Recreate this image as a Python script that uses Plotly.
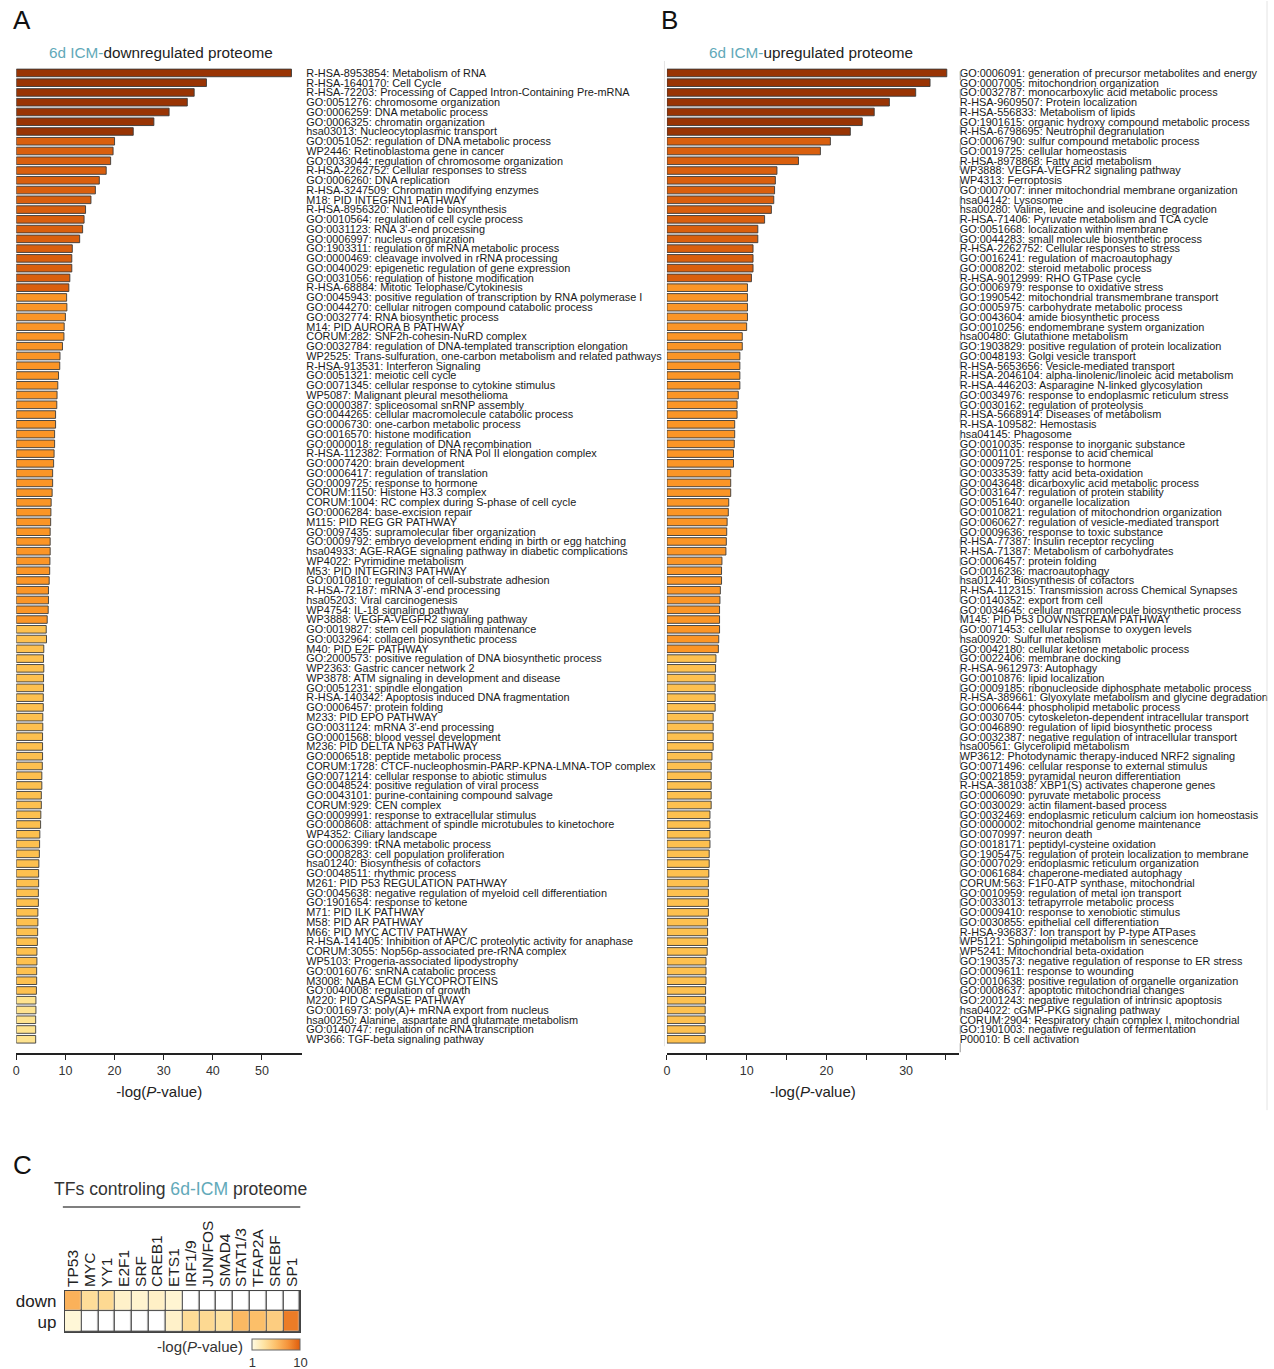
import plotly.graph_objects as go

W, H = 1274, 1369
FONT = "Liberation Sans, Arial, Helvetica, sans-serif"
TEAL = "#62a9b9"

# ---------------- enrichment terms: 6d ICM downregulated proteome ----------------
down_terms = [
    "R-HSA-8953854: Metabolism of RNA",
    "R-HSA-1640170: Cell Cycle",
    "R-HSA-72203: Processing of Capped Intron-Containing Pre-mRNA",
    "GO:0051276: chromosome organization",
    "GO:0006259: DNA metabolic process",
    "GO:0006325: chromatin organization",
    "hsa03013: Nucleocytoplasmic transport",
    "GO:0051052: regulation of DNA metabolic process",
    "WP2446: Retinoblastoma gene in cancer",
    "GO:0033044: regulation of chromosome organization",
    "R-HSA-2262752: Cellular responses to stress",
    "GO:0006260: DNA replication",
    "R-HSA-3247509: Chromatin modifying enzymes",
    "M18: PID INTEGRIN1 PATHWAY",
    "R-HSA-8956320: Nucleotide biosynthesis",
    "GO:0010564: regulation of cell cycle process",
    "GO:0031123: RNA 3'-end processing",
    "GO:0006997: nucleus organization",
    "GO:1903311: regulation of mRNA metabolic process",
    "GO:0000469: cleavage involved in rRNA processing",
    "GO:0040029: epigenetic regulation of gene expression",
    "GO:0031056: regulation of histone modification",
    "R-HSA-68884: Mitotic Telophase/Cytokinesis",
    "GO:0045943: positive regulation of transcription by RNA polymerase I",
    "GO:0044270: cellular nitrogen compound catabolic process",
    "GO:0032774: RNA biosynthetic process",
    "M14: PID AURORA B PATHWAY",
    "CORUM:282: SNF2h-cohesin-NuRD complex",
    "GO:0032784: regulation of DNA-templated transcription elongation",
    "WP2525: Trans-sulfuration, one-carbon metabolism and related pathways",
    "R-HSA-913531: Interferon Signaling",
    "GO:0051321: meiotic cell cycle",
    "GO:0071345: cellular response to cytokine stimulus",
    "WP5087: Malignant pleural mesothelioma",
    "GO:0000387: spliceosomal snRNP assembly",
    "GO:0044265: cellular macromolecule catabolic process",
    "GO:0006730: one-carbon metabolic process",
    "GO:0016570: histone modification",
    "GO:0000018: regulation of DNA recombination",
    "R-HSA-112382: Formation of RNA Pol II elongation complex",
    "GO:0007420: brain development",
    "GO:0006417: regulation of translation",
    "GO:0009725: response to hormone",
    "CORUM:1150: Histone H3.3 complex",
    "CORUM:1004: RC complex during S-phase of cell cycle",
    "GO:0006284: base-excision repair",
    "M115: PID REG GR PATHWAY",
    "GO:0097435: supramolecular fiber organization",
    "GO:0009792: embryo development ending in birth or egg hatching",
    "hsa04933: AGE-RAGE signaling pathway in diabetic complications",
    "WP4022: Pyrimidine metabolism",
    "M53: PID INTEGRIN3 PATHWAY",
    "GO:0010810: regulation of cell-substrate adhesion",
    "R-HSA-72187: mRNA 3'-end processing",
    "hsa05203: Viral carcinogenesis",
    "WP4754: IL-18 signaling pathway",
    "WP3888: VEGFA-VEGFR2 signaling pathway",
    "GO:0019827: stem cell population maintenance",
    "GO:0032964: collagen biosynthetic process",
    "M40: PID E2F PATHWAY",
    "GO:2000573: positive regulation of DNA biosynthetic process",
    "WP2363: Gastric cancer network 2",
    "WP3878: ATM signaling in development and disease",
    "GO:0051231: spindle elongation",
    "R-HSA-140342: Apoptosis induced DNA fragmentation",
    "GO:0006457: protein folding",
    "M233: PID EPO PATHWAY",
    "GO:0031124: mRNA 3'-end processing",
    "GO:0001568: blood vessel development",
    "M236: PID DELTA NP63 PATHWAY",
    "GO:0006518: peptide metabolic process",
    "CORUM:1728: CTCF-nucleophosmin-PARP-KPNA-LMNA-TOP complex",
    "GO:0071214: cellular response to abiotic stimulus",
    "GO:0048524: positive regulation of viral process",
    "GO:0043101: purine-containing compound salvage",
    "CORUM:929: CEN complex",
    "GO:0009991: response to extracellular stimulus",
    "GO:0008608: attachment of spindle microtubules to kinetochore",
    "WP4352: Ciliary landscape",
    "GO:0006399: tRNA metabolic process",
    "GO:0008283: cell population proliferation",
    "hsa01240: Biosynthesis of cofactors",
    "GO:0048511: rhythmic process",
    "M261: PID P53 REGULATION PATHWAY",
    "GO:0045638: negative regulation of myeloid cell differentiation",
    "GO:1901654: response to ketone",
    "M71: PID ILK PATHWAY",
    "M58: PID AR PATHWAY",
    "M66: PID MYC ACTIV PATHWAY",
    "R-HSA-141405: Inhibition of APC/C proteolytic activity for anaphase",
    "CORUM:3055: Nop56p-associated pre-rRNA complex",
    "WP5103: Progeria-associated lipodystrophy",
    "GO:0016076: snRNA catabolic process",
    "M3008: NABA ECM GLYCOPROTEINS",
    "GO:0040008: regulation of growth",
    "M220: PID CASPASE PATHWAY",
    "GO:0016973: poly(A)+ mRNA export from nucleus",
    "hsa00250: Alanine, aspartate and glutamate metabolism",
    "GO:0140747: regulation of ncRNA transcription",
    "WP366: TGF-beta signaling pathway",
]
down_values = [
    56.0, 38.7, 36.2, 34.8, 31.1, 28.0, 23.8, 20.0, 19.7, 19.2,
    18.3, 16.9, 16.1, 15.2, 14.1, 13.8, 13.5, 12.9, 11.4, 11.3,
    11.3, 10.9, 10.7, 10.25, 10.3, 10.0, 9.75, 9.7, 9.4, 8.9,
    8.85, 8.6, 8.45, 8.3, 8.25, 8.0, 8.0, 7.8, 7.8, 7.7,
    7.6, 7.4, 7.4, 7.3, 7.1, 7.05, 7.0, 6.9, 6.9, 6.9,
    6.85, 6.8, 6.7, 6.55, 6.55, 6.5, 6.3, 6.1, 6.15, 5.6,
    5.55, 5.6, 5.55, 5.55, 5.5, 5.5, 5.4, 5.4, 5.35, 5.35,
    5.35, 5.3, 5.2, 5.2, 5.1, 5.1, 5.0, 4.95, 4.8, 4.75,
    4.7, 4.6, 4.55, 4.55, 4.5, 4.5, 4.4, 4.4, 4.35, 4.3,
    4.2, 4.2, 4.15, 4.15, 4.1, 4.0, 4.0, 3.95, 3.95, 3.95,
]

# ---------------- enrichment terms: 6d ICM upregulated proteome ----------------
up_terms = [
    "GO:0006091: generation of precursor metabolites and energy",
    "GO:0007005: mitochondrion organization",
    "GO:0032787: monocarboxylic acid metabolic process",
    "R-HSA-9609507: Protein localization",
    "R-HSA-556833: Metabolism of lipids",
    "GO:1901615: organic hydroxy compound metabolic process",
    "R-HSA-6798695: Neutrophil degranulation",
    "GO:0006790: sulfur compound metabolic process",
    "GO:0019725: cellular homeostasis",
    "R-HSA-8978868: Fatty acid metabolism",
    "WP3888: VEGFA-VEGFR2 signaling pathway",
    "WP4313: Ferroptosis",
    "GO:0007007: inner mitochondrial membrane organization",
    "hsa04142: Lysosome",
    "hsa00280: Valine, leucine and isoleucine degradation",
    "R-HSA-71406: Pyruvate metabolism and TCA cycle",
    "GO:0051668: localization within membrane",
    "GO:0044283: small molecule biosynthetic process",
    "R-HSA-2262752: Cellular responses to stress",
    "GO:0016241: regulation of macroautophagy",
    "GO:0008202: steroid metabolic process",
    "R-HSA-9012999: RHO GTPase cycle",
    "GO:0006979: response to oxidative stress",
    "GO:1990542: mitochondrial transmembrane transport",
    "GO:0005975: carbohydrate metabolic process",
    "GO:0043604: amide biosynthetic process",
    "GO:0010256: endomembrane system organization",
    "hsa00480: Glutathione metabolism",
    "GO:1903829: positive regulation of protein localization",
    "GO:0048193: Golgi vesicle transport",
    "R-HSA-5653656: Vesicle-mediated transport",
    "R-HSA-2046104: alpha-linolenic/linoleic acid metabolism",
    "R-HSA-446203: Asparagine N-linked glycosylation",
    "GO:0034976: response to endoplasmic reticulum stress",
    "GO:0030162: regulation of proteolysis",
    "R-HSA-5668914: Diseases of metabolism",
    "R-HSA-109582: Hemostasis",
    "hsa04145: Phagosome",
    "GO:0010035: response to inorganic substance",
    "GO:0001101: response to acid chemical",
    "GO:0009725: response to hormone",
    "GO:0033539: fatty acid beta-oxidation",
    "GO:0043648: dicarboxylic acid metabolic process",
    "GO:0031647: regulation of protein stability",
    "GO:0051640: organelle localization",
    "GO:0010821: regulation of mitochondrion organization",
    "GO:0060627: regulation of vesicle-mediated transport",
    "GO:0009636: response to toxic substance",
    "R-HSA-77387: Insulin receptor recycling",
    "R-HSA-71387: Metabolism of carbohydrates",
    "GO:0006457: protein folding",
    "GO:0016236: macroautophagy",
    "hsa01240: Biosynthesis of cofactors",
    "R-HSA-112315: Transmission across Chemical Synapses",
    "GO:0140352: export from cell",
    "GO:0034645: cellular macromolecule biosynthetic process",
    "M145: PID P53 DOWNSTREAM PATHWAY",
    "GO:0071453: cellular response to oxygen levels",
    "hsa00920: Sulfur metabolism",
    "GO:0042180: cellular ketone metabolic process",
    "GO:0022406: membrane docking",
    "R-HSA-9612973: Autophagy",
    "GO:0010876: lipid localization",
    "GO:0009185: ribonucleoside diphosphate metabolic process",
    "R-HSA-389661: Glyoxylate metabolism and glycine degradation",
    "GO:0006644: phospholipid metabolic process",
    "GO:0030705: cytoskeleton-dependent intracellular transport",
    "GO:0046890: regulation of lipid biosynthetic process",
    "GO:0032387: negative regulation of intracellular transport",
    "hsa00561: Glycerolipid metabolism",
    "WP3612: Photodynamic therapy-induced NRF2 signaling",
    "GO:0071496: cellular response to external stimulus",
    "GO:0021859: pyramidal neuron differentiation",
    "R-HSA-381038: XBP1(S) activates chaperone genes",
    "GO:0006090: pyruvate metabolic process",
    "GO:0030029: actin filament-based process",
    "GO:0032469: endoplasmic reticulum calcium ion homeostasis",
    "GO:0000002: mitochondrial genome maintenance",
    "GO:0070997: neuron death",
    "GO:0018171: peptidyl-cysteine oxidation",
    "GO:1905475: regulation of protein localization to membrane",
    "GO:0007029: endoplasmic reticulum organization",
    "GO:0061684: chaperone-mediated autophagy",
    "CORUM:563: F1F0-ATP synthase, mitochondrial",
    "GO:0010959: regulation of metal ion transport",
    "GO:0033013: tetrapyrrole metabolic process",
    "GO:0009410: response to xenobiotic stimulus",
    "GO:0030855: epithelial cell differentiation",
    "R-HSA-936837: Ion transport by P-type ATPases",
    "WP5121: Sphingolipid metabolism in senescence",
    "WP5241: Mitochondrial beta-oxidation",
    "GO:1903573: negative regulation of response to ER stress",
    "GO:0009611: response to wounding",
    "GO:0010638: positive regulation of organelle organization",
    "GO:0008637: apoptotic mitochondrial changes",
    "GO:2001243: negative regulation of intrinsic apoptosis",
    "hsa04022: cGMP-PKG signaling pathway",
    "CORUM:2904: Respiratory chain complex I, mitochondrial",
    "GO:1901003: negative regulation of fermentation",
    "P00010: B cell activation",
]
up_values = [
    35.1, 33.0, 31.2, 27.9, 26.0, 24.5, 23.0, 20.5, 19.25, 16.5,
    13.8, 13.6, 13.5, 13.4, 13.1, 12.25, 11.4, 11.4, 10.8, 10.8,
    10.8, 10.6, 10.1, 10.1, 10.1, 10.1, 10.0, 9.45, 9.45, 9.15,
    9.15, 9.15, 9.15, 8.95, 8.8, 8.8, 8.5, 8.5, 8.45, 8.35,
    8.35, 8.0, 8.0, 8.0, 7.75, 7.7, 7.55, 7.5, 7.45, 7.4,
    6.9, 6.85, 6.85, 6.7, 6.65, 6.6, 6.6, 6.6, 6.5, 6.45,
    6.15, 6.1, 6.05, 6.05, 6.05, 6.05, 5.8, 5.8, 5.8, 5.8,
    5.65, 5.55, 5.55, 5.55, 5.55, 5.55, 5.4, 5.4, 5.4, 5.4,
    5.3, 5.3, 5.25, 5.2, 5.2, 5.2, 5.2, 5.1, 5.1, 5.1,
    5.05, 4.9, 4.9, 4.9, 4.85, 4.85, 4.8, 4.8, 4.8, 4.8,
]

# ---------------- transcription factor enrichment ----------------
tf_names = ["TP53", "MYC", "YY1", "E2F1", "SRF", "CREB1", "ETS1",
            "IRF1/9", "JUN/FOS", "SMAD4", "STAT1/3", "TFAP2A", "SREBF", "SP1"]
tf_rows = ["down", "up"]
tf_down = [6.2, 3.6, 3.9, 1.9, 1.7, 2.0, 1.6, None, None, None, None, None, None, None]
tf_up = [1.4, None, None, None, None, None, 1.9, 3.7, 3.9, 3.3, 5.8, 5.5, 4.6, 8.7]

# discrete -log(P) bins used to colour the bars
bin_edges = [22, 10.5, 6.2, 4.05]
bin_colors = ["#993404", "#d95f0e", "#fb9526", "#fdc04f", "#fee38f"]


def bar_color(v):
    for edge, col in zip(bin_edges, bin_colors):
        if v > edge:
            return col
    return bin_colors[-1]


def fx(p):
    return p / W


def fy(p):
    return 1 - p / H


fig = go.Figure()

for terms, vals, xa, ya in [(down_terms, down_values, "x", "y"),
                            (up_terms, up_values, "x2", "y2")]:
    fig.add_trace(go.Bar(
        x=vals, y=list(range(len(vals))), orientation="h",
        width=0.78,
        marker=dict(color=[bar_color(v) for v in vals],
                    line=dict(color="#3a3a3a", width=0.9)),
        xaxis=xa, yaxis=ya, showlegend=False,
        hovertext=terms, hoverinfo="text+x",
    ))

# heatmap: white base so empty cells show as white boxes with borders
fig.add_trace(go.Heatmap(
    z=[[0] * len(tf_names) for _ in tf_rows], x=tf_names, y=tf_rows,
    colorscale=[[0, "white"], [1, "white"]], showscale=False,
    xgap=1.4, ygap=1.4, xaxis="x3", yaxis="y3", hoverinfo="skip",
))
fig.add_trace(go.Heatmap(
    z=[tf_down, tf_up], x=tf_names, y=tf_rows,
    zmin=1, zmax=10,
    colorscale=[[0, "#fffbe3"], [0.25, "#fee3a2"], [0.5, "#fcbf69"],
                [0.75, "#f5933a"], [1, "#e05d0c"]],
    xgap=1.4, ygap=1.4, xaxis="x3", yaxis="y3",
    colorbar=dict(
        orientation="h", x=fx(250), xanchor="left", y=fy(1339), yanchor="top",
        len=48, lenmode="pixels", thickness=11, thicknessmode="pixels",
        tickvals=[1, 10], ticks="", tickfont=dict(family=FONT, size=13, color="#333"),
        outlinecolor="#666", outlinewidth=1, xpad=0, ypad=0,
    ),
))

y_top, y_bot = 66.6, 1053
bar_range = [100.43, -0.55]
label_font = dict(family=FONT, size=10.9, color="#1a1a1a")
tick_font = dict(family=FONT, size=12.5, color="#333")
axis_title = dict(text="-log(<i>P</i>-value)", font=dict(family=FONT, size=15, color="#222"),
                  standoff=10)
common_x = dict(showgrid=False, zeroline=False, showline=True, linecolor="#222",
                linewidth=1.5, ticks="outside", ticklen=5, tickwidth=1.3,
                tickcolor="#222", tickfont=tick_font, title=axis_title)
common_y = dict(showgrid=False, zeroline=False, showline=False, ticks="",
                side="right", tickmode="array", range=bar_range,
                tickfont=label_font,
                domain=[fy(y_bot), fy(y_top)])

fig.update_layout(
    width=W, height=H, margin=dict(l=0, r=0, t=0, b=0),
    paper_bgcolor="white", plot_bgcolor="white",
    font=dict(family=FONT, color="#222"),
    bargap=0.2,
    xaxis=dict(domain=[fx(13.3), fx(300)], range=[0, 58.2], anchor="y",
               tickvals=[0, 10, 20, 30, 40, 50], **common_x),
    yaxis=dict(anchor="x", tickvals=list(range(len(down_terms))),
               ticktext=down_terms, ticklabelstandoff=3, **common_y),
    xaxis2=dict(domain=[fx(665.5), fx(958)], range=[0, 36.6], anchor="y2",
                tickvals=[0, 5, 10, 15, 20, 25, 30, 35],
                ticktext=["0", "", "10", "", "20", "", "30", ""], **common_x),
    yaxis2=dict(anchor="x2", tickvals=list(range(len(up_terms))),
                ticktext=up_terms, **common_y),
    xaxis3=dict(domain=[fx(62), fx(298)], anchor="y3", side="top",
                tickmode="array", tickvals=tf_names, ticktext=tf_names,
                tickangle=-90, ticks="", showgrid=False, zeroline=False,
                showline=True, mirror=True, linecolor="#444", linewidth=1,
                tickfont=dict(family=FONT, size=15.5, color="#222")),
    yaxis3=dict(domain=[fy(1332), fy(1291)], anchor="x3", autorange="reversed",
                tickmode="array", tickvals=tf_rows, ticktext=tf_rows,
                ticks="", showgrid=False, zeroline=False, showline=True,
                mirror=True, linecolor="#444", linewidth=1, ticklabelstandoff=4,
                tickfont=dict(family=FONT, size=17, color="#222")),
)

# heatmap cell borders
fig.add_shape(type="rect", xref="x3 domain", yref="y3 domain", x0=0, x1=1, y0=0, y1=1,
              fillcolor="#4a4a4a", line=dict(width=0), layer="below")

# light panel separators and dashed guide
fig.add_shape(type="line", xref="paper", yref="paper", x0=fx(663), x1=fx(663),
              y0=fy(1046), y1=fy(60), line=dict(color="#e4e4e4", width=1))
fig.add_shape(type="line", xref="paper", yref="paper", x0=fx(1267), x1=fx(1267),
              y0=fy(1110), y1=fy(0), line=dict(color="#e4e4e4", width=1))
fig.add_shape(type="line", xref="paper", yref="paper", x0=fx(959.5), x1=fx(959.5),
              y0=fy(1052), y1=fy(66), line=dict(color="#9a9a9a", width=1, dash="dash"))
# rule under heatmap title
fig.add_shape(type="line", xref="paper", yref="paper", x0=fx(60), x1=fx(298),
              y0=fy(1207), y1=fy(1207), line=dict(color="#555", width=1.5))


def note(text, x, y, size, xanchor="center", color="#222"):
    fig.add_annotation(text=text, x=fx(x), y=fy(y), xref="paper", yref="paper",
                       showarrow=False, xanchor=xanchor, yanchor="middle",
                       font=dict(family=FONT, size=size, color=color))


note("A", 8, 19, 26, xanchor="left", color="#111")
note("B", 658, 19, 26, xanchor="left", color="#111")
note("C", 8, 1165, 26, xanchor="left", color="#111")
note(f"<span style='color:{TEAL}'>6d ICM-</span>downregulated proteome", 158, 52, 15.3)
note(f"<span style='color:{TEAL}'>6d ICM-</span>upregulated proteome", 810, 52, 15.3)
note(f"TFs controling <span style='color:{TEAL}'>6d-ICM</span> proteome", 178, 1189, 17.6,
     color="#333")
note("-log(<i>P</i>-value)", 243, 1346, 15, xanchor="right", color="#333")

fig.write_html("out.html")
